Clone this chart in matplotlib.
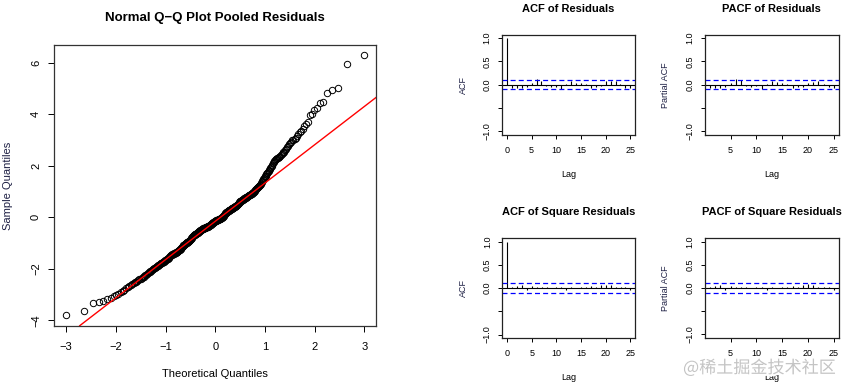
import numpy as np
import statistics
import matplotlib
matplotlib.use("Agg")
import matplotlib.pyplot as plt
import matplotlib.patheffects as pe

plt.rcParams['font.family'] = ['Liberation Sans', 'DejaVu Sans']

# ---------------- data ----------------
# sorted pooled residuals (sample quantiles)
sample_quantiles = [
    -3.80, -3.62, -3.33, -3.27, -3.23, -3.18, -3.13, -3.07, -3.01, -2.96,
    -2.90, -2.85, -2.80, -2.75, -2.71, -2.67, -2.63, -2.59, -2.55, -2.52,
    -2.49, -2.46, -2.43, -2.41, -2.38, -2.36, -2.33, -2.30, -2.27, -2.24,
    -2.22, -2.19, -2.17, -2.14, -2.12, -2.09, -2.07, -2.04, -2.02, -2.00,
    -1.98, -1.96, -1.94, -1.92, -1.90, -1.88, -1.86, -1.84, -1.83, -1.81,
    -1.79, -1.78, -1.77, -1.75, -1.73, -1.72, -1.71, -1.69, -1.67, -1.65,
    -1.63, -1.61, -1.60, -1.58, -1.56, -1.54, -1.52, -1.50, -1.48, -1.46,
    -1.45, -1.44, -1.43, -1.42, -1.41, -1.40, -1.39, -1.38, -1.37, -1.36,
    -1.35, -1.34, -1.33, -1.31, -1.30, -1.28, -1.27, -1.25, -1.23, -1.21,
    -1.20, -1.18, -1.16, -1.14, -1.12, -1.10, -1.08, -1.07, -1.06, -1.05,
    -1.04, -1.02, -1.01, -1.00, -0.99, -0.97, -0.96, -0.95, -0.94, -0.93,
    -0.92, -0.91, -0.89, -0.87, -0.85, -0.83, -0.81, -0.79, -0.77, -0.75,
    -0.73, -0.71, -0.70, -0.69, -0.68, -0.67, -0.66, -0.65, -0.64, -0.63,
    -0.62, -0.61, -0.60, -0.59, -0.58, -0.57, -0.56, -0.55, -0.54, -0.53,
    -0.52, -0.51, -0.50, -0.49, -0.48, -0.47, -0.46, -0.45, -0.44, -0.43,
    -0.43, -0.42, -0.41, -0.41, -0.40, -0.40, -0.39, -0.38, -0.38, -0.37,
    -0.37, -0.36, -0.36, -0.35, -0.34, -0.34, -0.33, -0.32, -0.31, -0.30,
    -0.29, -0.28, -0.27, -0.26, -0.25, -0.24, -0.23, -0.22, -0.21, -0.20,
    -0.19, -0.18, -0.17, -0.16, -0.15,
    -0.15, -0.14, -0.13, -0.12, -0.12, -0.11, -0.10, -0.10, -0.09, -0.08,
    -0.08, -0.07, -0.06, -0.05, -0.05, -0.04, -0.03, -0.02, -0.01, 0.00,
    0.01, 0.02, 0.03, 0.05, 0.06, 0.08, 0.10, 0.12, 0.14, 0.16,
    0.17, 0.18, 0.19, 0.20, 0.21, 0.22, 0.23, 0.24, 0.25, 0.26,
    0.27, 0.28, 0.29, 0.30, 0.31, 0.32, 0.33, 0.34, 0.35, 0.36,
    0.37, 0.37, 0.38, 0.39, 0.40, 0.40, 0.41, 0.42, 0.43, 0.44,
    0.45, 0.46, 0.47, 0.48, 0.50, 0.52, 0.54, 0.56, 0.58, 0.60,
    0.62, 0.63, 0.64, 0.65, 0.66, 0.67, 0.68, 0.69, 0.70, 0.71,
    0.72, 0.73, 0.74, 0.75, 0.76, 0.77, 0.78, 0.79, 0.80, 0.81,
    0.83, 0.84, 0.85, 0.86, 0.87, 0.88, 0.89, 0.90, 0.91, 0.92,
    0.93, 0.95, 0.97, 0.99, 1.00, 1.02, 1.04, 1.06, 1.08, 1.10,
    1.12, 1.14, 1.16, 1.18, 1.20, 1.22, 1.24, 1.27, 1.30, 1.33,
    1.37, 1.41, 1.45, 1.49, 1.53, 1.56, 1.59, 1.62, 1.66, 1.70,
    1.72, 1.76, 1.80, 1.84, 1.88, 1.92, 1.96, 2.00, 2.04, 2.09,
    2.16, 2.20, 2.23, 2.25, 2.27, 2.29, 2.30, 2.32, 2.34, 2.36,
    2.40, 2.44, 2.48, 2.52, 2.55, 2.60, 2.65, 2.72, 2.78, 2.83,
    2.88, 2.93, 2.98, 3.01, 3.04, 3.08, 3.16, 3.22, 3.30, 3.36,
    3.44, 3.53, 3.62, 3.68, 3.96, 3.99, 4.16, 4.25, 4.42, 4.47,
    4.82, 4.95, 5.02, 5.93, 6.29,
]

n_obs = 370  # series length used for the confidence bands

acf_lags = list(range(0, 26))
acf_residuals = [1.0, -0.06, -0.08, -0.07, -0.05, 0.03, 0.13, 0.09, -0.03, -0.05,
                 -0.04, -0.10, 0.02, 0.09, 0.04, 0.03, 0.02, -0.08, -0.04, -0.03,
                 0.07, 0.08, 0.07, 0.02, -0.06, -0.07]

pacf_lags = list(range(1, 26))
pacf_residuals = [-0.06, -0.08, -0.07, -0.05, 0.03, 0.12, 0.10, -0.03, -0.04, -0.03,
                  -0.09, 0.01, 0.07, 0.05, 0.04, 0.02, -0.08, -0.05, -0.04, 0.03,
                  0.05, 0.08, 0.01, -0.05, -0.06]

acf_sq_residuals = [1.0, 0.02, 0.05, 0.06, -0.03, 0.05, 0.03, 0.03, 0.02, 0.01,
                    0.02, 0.03, -0.05, 0.02, 0.01, 0.02, 0.03, 0.04, 0.02, 0.06,
                    0.07, 0.07, 0.03, 0.02, 0.03, -0.04]

pacf_sq_residuals = [0.02, 0.05, 0.06, -0.04, 0.05, 0.03, 0.03, 0.02, 0.01, 0.02,
                     0.03, -0.05, 0.02, 0.01, 0.02, 0.03, 0.04, 0.02, 0.06, 0.08,
                     0.07, 0.03, 0.02, 0.03, -0.04]

qq_title = "Normal Q\u2212Q Plot Pooled Residuals"
titles = ["ACF of Residuals", "PACF of Residuals",
          "ACF of Square Residuals", "PACF of Square Residuals"]

# ---------------- figure ----------------
W, H = 846, 386
fig = plt.figure(figsize=(W / 100, H / 100), dpi=100)


def box(l, t, r, b):
    return [l / W, 1 - b / H, (r - l) / W, (b - t) / H]


LABEL_COL = '#1e2044'

# ---- Q-Q plot ----
ax = fig.add_axes(box(54.3, 44.7, 376.3, 325.7))
y = np.sort(np.array(sample_quantiles))
n = len(y)
a = 3 / 8 if n <= 10 else 0.5
probs = (np.arange(1, n + 1) - a) / (n + 1 - 2 * a)
nd = statistics.NormalDist()
theo = np.array([nd.inv_cdf(p) for p in probs])
ax.plot(theo, y, linestyle='none', marker='o', markersize=4.6,
        markerfacecolor='none', markeredgecolor='black', markeredgewidth=0.7)
yq = np.quantile(y, [0.25, 0.75])
xq = np.array([nd.inv_cdf(0.25), nd.inv_cdf(0.75)])
slope = (yq[1] - yq[0]) / (xq[1] - xq[0])
intercept = yq[0] - slope * xq[0]
ax.axline((0, intercept), slope=slope, color='#ff0000', lw=1.0)

def r_lim(lo, hi):
    d = (hi - lo) * 0.04
    return lo - d, hi + d

ax.set_xlim(*r_lim(theo.min(), theo.max()))
ax.set_ylim(*r_lim(y.min(), y.max()))
ax.set_xticks([-3, -2, -1, 0, 1, 2, 3])
ax.set_xticklabels(['\u22123', '\u22122', '\u22121', '0', '1', '2', '3'])
ax.set_yticks([-4, -2, 0, 2, 4, 6])
ax.set_yticklabels(['\u22124', '\u22122', '0', '2', '4', '6'])
ax.tick_params(axis='both', direction='out', length=4.5, width=0.7, labelsize=8)
ax.tick_params(axis='x', pad=7)
ax.tick_params(axis='y', pad=5)
for lab in ax.get_yticklabels():
    lab.set_rotation(90)
    lab.set_va('center')
for s in ax.spines.values():
    s.set_linewidth(0.9)
    s.set_color('#333333')

fig.text(215.3 / W, 1 - 17.5 / H, qq_title, ha='center', va='center',
         fontsize=9.5, fontweight='bold')
fig.text(215.3 / W, 1 - 374 / H, "Theoretical Quantiles", ha='center', va='center',
         fontsize=8)
fig.text(8 / W, 1 - 186 / H, "Sample Quantiles", ha='center', va='center',
         rotation=90, fontsize=8, color=LABEL_COL)

# ---- ACF / PACF panels ----
conf = 1.96 / np.sqrt(n_obs)


def corr_panel(rect, lags, vals, title, ylabel, title_y, lab_x, ylab_x, xlim):
    l, t, r, b = rect
    axc = fig.add_axes(box(l, t, r, b))
    axc.vlines(lags, 0, vals, color='black', lw=0.8)
    axc.axhline(0, color='black', lw=0.8)
    for c in (conf, -conf):
        axc.axhline(c, color='#0000ff', lw=0.9, linestyle=(0, (4, 2.5)))
    axc.set_xlim(*xlim)
    axc.set_ylim(-1.08, 1.08)
    axc.set_xticks([t_ for t_ in [0, 5, 10, 15, 20, 25] if xlim[0] <= t_ <= xlim[1]])
    axc.set_yticks([-1.0, -0.5, 0.0, 0.5, 1.0])
    axc.set_yticklabels(['\u22121.0', '', '0.0', '0.5', '1.0'])
    axc.tick_params(axis='both', direction='out', length=3, width=0.7, labelsize=6.5)
    axc.tick_params(axis='x', pad=5)
    axc.tick_params(axis='y', pad=4.5)
    for lab in axc.get_yticklabels():
        lab.set_rotation(90)
        lab.set_va('center')
    for s in axc.spines.values():
        s.set_linewidth(0.9)
        s.set_color('#222222')
    cx = (l + r) / 2
    fig.text(cx / W, 1 - title_y / H, title, ha='center', va='center',
             fontsize=8, fontweight='bold')
    fig.text(cx / W, 1 - lab_x / H, "Lag", ha='center', va='center', fontsize=6.5)
    fig.text(ylab_x / W, 1 - (t + b) / 2 / H, ylabel, ha='center', va='center',
             rotation=90, fontsize=6.5, color=LABEL_COL)
    return axc


corr_panel((502, 34.5, 635.3, 135), acf_lags, acf_residuals, titles[0], "ACF",
           9.5, 174, 463, (-1, 26))
corr_panel((705, 34.5, 838.8, 135), pacf_lags, pacf_residuals, titles[1], "Partial ACF",
           9.5, 174, 665, (0.04, 25.96))
corr_panel((502.3, 238, 635.3, 338.3), acf_lags, acf_sq_residuals, titles[2], "ACF",
           212.5, 377.5, 463, (-1, 26))
corr_panel((705, 238.3, 838.8, 337.7), pacf_lags, pacf_sq_residuals, titles[3], "Partial ACF",
           212.5, 377.5, 665, (0.04, 25.96))

# watermark
fig.text(683 / W, 1 - 368 / H, "@稀土掘金技术社区", ha='left', va='center',
         fontsize=12.3, color='#c4c4c4',
         family=['Noto Sans CJK SC', 'DejaVu Sans'],
         path_effects=[pe.withStroke(linewidth=3, foreground='white')])

fig.savefig("out.png", dpi=100)
